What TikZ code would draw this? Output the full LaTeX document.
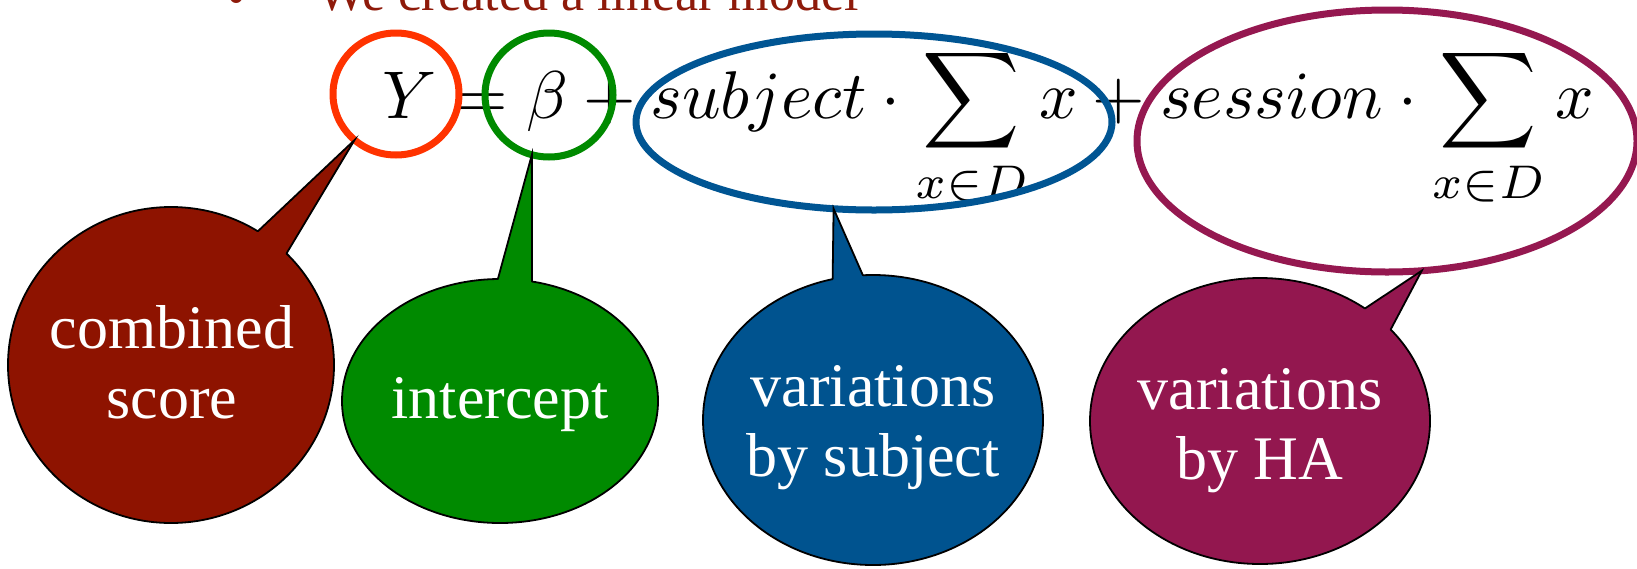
\documentclass[tikz,border=0pt]{standalone}
\usepackage[no-math]{fontspec}
\setmainfont{Liberation Serif}
\usetikzlibrary{shapes.geometric,calc}
\definecolor{hlred}{HTML}{FF3300}
\definecolor{hlgreen}{HTML}{008A00}
\definecolor{hlblue}{HTML}{005593}
\definecolor{hlpurple}{HTML}{951850}
\definecolor{cred}{HTML}{8E1300}
\definecolor{cgreen}{HTML}{008A00}
\definecolor{cblue}{HTML}{00538F}
\definecolor{cpurple}{HTML}{93174F}
\definecolor{titlered}{HTML}{8E1A0A}
\tikzset{
  hl/.style={ellipse, draw=#1, line width=7pt, inner sep=0pt, outer sep=0pt},
  callout/.style={ellipse, fill=#1, draw=black, line width=1.8pt, inner sep=0pt, outer sep=0pt},
  pointerfill/.style={fill=#1},
  pointeredge/.style={draw=black, line width=1.8pt, line cap=round, line join=miter},
  calltext/.style={text=white, font=\fontsize{62}{70}\selectfont, align=center, inner sep=0pt},
}
\begin{document}
\begin{tikzpicture}[x=1pt,y=-1pt]
\fill[white] (0,0) rectangle (1637,568);
\useasboundingbox (0,0) rectangle (1637,568);
% title line (cut at the top)
\node[anchor=base, text=titlered, font=\fontsize{52}{60}\selectfont, inner sep=0pt] (bullet) at (237,14) {•};
\node[anchor=base west, text=titlered, font=\fontsize{52}{60}\selectfont, inner sep=0pt] (title) at (317,10) {We created a linear model};
% formula
\node[anchor=base west, inner sep=0pt, scale=6.75] (formula) at (381,118)
  {$\displaystyle Y = \beta + subject\cdot\sum_{x\in D} x + session\cdot\sum_{x\in D} x$};
% highlight ellipses
\node[hl=hlred, minimum width=126pt, minimum height=122pt] (Yc) at (396,94) {};
\node[hl=hlgreen, minimum width=128pt, minimum height=124pt] (Bc) at (549,95) {};
\node[hl=hlblue, minimum width=476pt, minimum height=176pt] (Sc) at (874,122) {};
\node[hl=hlpurple, minimum width=500pt, minimum height=262pt] (Hc) at (1387,141) {};
% callout: combined score
\node[callout=cred, minimum width=326pt, minimum height=316pt] (cs) at (171,365) {};
\fill[pointerfill=cred] (cs.57) -- (Yc.228) -- (cs.44) -- ($(cs.44)!0.08!(cs.center)$) -- ($(cs.57)!0.08!(cs.center)$) -- cycle;
\draw[pointeredge] (cs.57) -- (Yc.228) -- (cs.44);
\node[calltext] (cst) at (172,362) {combined\\score};
% callout: intercept
\node[callout=cgreen, minimum width=316pt, minimum height=244pt] (ic) at (500,401) {};
\fill[pointerfill=cgreen] (ic.91) -- (Bc.254) -- (ic.75) -- ($(ic.75)!0.08!(ic.center)$) -- ($(ic.91)!0.08!(ic.center)$) -- cycle;
\draw[pointeredge] (ic.91) -- (Bc.254) -- (ic.75);
\node[calltext, anchor=base] (ict) at (500,418) {intercept};
% callout: variations by subject
\node[callout=cblue, minimum width=340pt, minimum height=290pt] (vs) at (873,420) {};
\fill[pointerfill=cblue] (vs.106) -- (Sc.245) -- (vs.94) -- ($(vs.94)!0.08!(vs.center)$) -- ($(vs.106)!0.08!(vs.center)$) -- cycle;
\draw[pointeredge] (vs.106) -- (Sc.245) -- (vs.94);
\node[calltext] (vst) at (873,428) {variations\\by subject};
% callout: variations by HA
\node[callout=cpurple, minimum width=340pt, minimum height=286pt] (vh) at (1260,421) {};
\fill[pointerfill=cpurple] (vh.47) -- (Hc.285) -- (vh.35) -- ($(vh.35)!0.08!(vh.center)$) -- ($(vh.47)!0.08!(vh.center)$) -- cycle;
\draw[pointeredge] (vh.47) -- (Hc.285) -- (vh.35);
\node[calltext] (vht) at (1260,431) {variations\\by HA};
\end{tikzpicture}
\end{document}
